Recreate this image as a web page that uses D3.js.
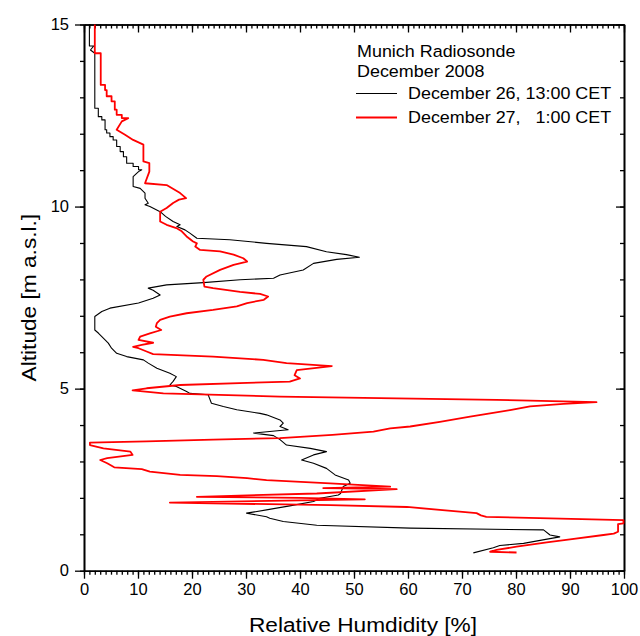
<!DOCTYPE html>
<html>
<head>
<meta charset="utf-8">
<script src="https://cdn.jsdelivr.net/npm/d3@7"></script>
<style>
  body { margin: 0; background: #fff; }
  text { font-family: Arial, "Liberation Sans", sans-serif; fill: #000; }
</style>
</head>
<body>
<script>
// radiosonde profiles, altitude in km, relative humidity in %
var blackAlt = [15.0, 14.41, 14.41, 14.3, 14.21, 12.70, 12.70, 12.47, 12.47, 12.38, 12.38, 12.11, 12.11, 12.02, 12.02, 11.92, 11.92, 11.83, 11.83, 11.65, 11.65, 11.51, 11.51, 11.37, 11.37, 11.19, 11.19, 11.10, 11.10, 11.01, 11.01, 10.96, 10.82, 10.55, 10.50, 10.37, 10.23, 10.09, 10.05, 10.00, 9.86, 9.73, 9.59, 9.50, 9.45, 9.36, 9.27, 9.13, 9.09, 8.99, 8.90, 8.76, 8.68, 8.61, 8.55, 8.44, 8.26, 8.12, 8.03, 7.99, 7.91, 7.85, 7.76, 7.70, 7.57, 7.48, 7.35, 7.21, 7.12, 6.98, 6.61, 6.52, 6.43, 6.25, 6.11, 5.97, 5.88, 5.79, 5.70, 5.56, 5.42, 5.33, 5.20, 5.10, 5.06, 4.92, 4.87, 4.83, 4.60, 4.51, 4.42, 4.32, 4.28, 4.14, 4.05, 3.96, 3.87, 3.78, 3.71, 3.60, 3.45, 3.36, 3.27, 3.18, 3.04, 2.95, 2.81, 2.63, 2.49, 2.40, 2.31, 2.12, 2.08, 1.99, 1.90, 1.78, 1.67, 1.58, 1.48, 1.44, 1.35, 1.25, 1.17, 1.12, 0.98, 0.93, 0.86, 0.75, 0.69, 0.63, 0.49]
var blackRH = [1.0, 1.0, 1.8, 1.2, 2.0, 2.0, 2.65, 2.65, 3.3, 3.3, 3.9, 3.9, 4.2, 4.2, 4.8, 4.8, 5.4, 5.4, 6.05, 6.05, 6.7, 6.7, 7.3, 7.3, 7.9, 7.9, 9.1, 9.1, 10.1, 10.1, 10.7, 10.1, 9.1, 9.1, 10.4, 11.3, 11.3, 11.9, 11.3, 12.2, 14.1, 15.1, 16.5, 17.8, 17.2, 18.7, 19.6, 20.9, 27.0, 33.8, 41.2, 44.9, 48.6, 51.0, 46.8, 42.5, 40.6, 36.3, 35.1, 28.9, 22.1, 15.3, 11.9, 12.8, 14.1, 12.8, 10.1, 4.8, 3.3, 2.0, 2.0, 2.7, 3.3, 4.5, 5.1, 6.05, 7.9, 11.0, 11.9, 13.5, 15.9, 17.1, 16.5, 15.9, 17.1, 19.0, 19.6, 23.0, 23.6, 25.8, 28.3, 32.6, 33.8, 36.3, 36.9, 36.3, 37.8, 31.4, 35.1, 36.3, 37.5, 41.9, 44.9, 42.5, 40.3, 42.5, 44.9, 46.5, 49.0, 49.3, 48.0, 47.5, 47.1, 43.7, 42.5, 38.1, 33.8, 30.1, 33.8, 34.4, 36.9, 43.1, 60.4, 85.1, 86.3, 88.1, 85.5, 81.4, 77.0, 75.8, 72.1]

var redAlt = [15.0, 14.21, 14.21, 13.34, 13.34, 13.2, 13.2, 13.03, 13.03, 12.89, 12.89, 12.66, 12.66, 12.52, 12.52, 12.43, 12.43, 12.34, 12.11, 11.97, 11.83, 11.70, 11.24, 11.19, 10.96, 10.64, 10.59, 10.37, 10.23, 10.19, 10.10, 9.96, 9.86, 9.59, 9.50, 9.41, 9.32, 9.18, 9.04, 8.99, 8.90, 8.81, 8.77, 8.68, 8.58, 8.49, 8.40, 8.26, 8.08, 7.99, 7.80, 7.76, 7.66, 7.60, 7.53, 7.44, 7.35, 7.26, 7.16, 7.07, 6.98, 6.89, 6.80, 6.70, 6.61, 6.52, 6.43, 6.34, 6.26, 6.20, 6.15, 6.11, 6.02, 5.95, 5.88, 5.79, 5.70, 5.62, 5.51, 5.37, 5.28, 5.19, 5.16, 5.10, 5.01, 4.95, 4.87, 4.78, 4.69, 4.63, 4.58, 4.51, 4.41, 4.32, 4.23, 4.09, 3.96, 3.91, 3.82, 3.73, 3.64, 3.60, 3.55, 3.52, 3.45, 3.36, 3.27, 3.18, 3.09, 3.04, 2.95, 2.84, 2.79, 2.72, 2.63, 2.60, 2.54, 2.49, 2.40, 2.31, 2.27, 2.24, 2.12, 2.03, 2.00, 1.96, 1.87, 1.80, 1.75, 1.58, 1.52, 1.48, 1.39, 1.30, 1.28, 1.07, 1.02, 0.98, 0.86, 0.78, 0.66, 0.57, 0.52, 0.50]
var redRH = [2.0, 2.0, 3.1, 3.1, 3.9, 3.9, 4.2, 4.2, 5.1, 5.1, 5.7, 5.7, 6.05, 6.05, 7.0, 7.0, 8.2, 7.0, 6.05, 7.6, 9.1, 11.0, 11.0, 12.1, 12.1, 11.3, 15.3, 17.8, 18.9, 17.6, 16.5, 15.3, 14.1, 14.1, 15.3, 17.1, 18.1, 19.0, 20.2, 20.9, 20.6, 21.5, 25.2, 27.7, 29.5, 30.2, 27.7, 25.2, 22.7, 22.1, 22.3, 23.9, 28.9, 32.6, 34.1, 33.3, 30.2, 28.3, 23.9, 19.0, 15.9, 14.1, 13.5, 13.3, 14.3, 12.2, 10.4, 10.1, 12.8, 10.7, 9.1, 10.1, 11.6, 12.8, 23.9, 33.2, 37.5, 45.9, 39.4, 39.0, 40.0, 38.1, 30.2, 17.8, 11.6, 9.0, 14.7, 36.3, 76.4, 94.9, 88.8, 82.6, 78.9, 75.2, 71.5, 65.9, 60.4, 56.7, 53.6, 46.0, 36.3, 23.9, 11.6, 1.1, 1.1, 3.6, 8.6, 9.0, 4.3, 3.0, 4.3, 5.6, 10.7, 12.2, 17.8, 24.6, 30.2, 33.8, 45.6, 56.7, 44.3, 57.9, 43.1, 20.9, 40.0, 52.0, 15.9, 45.6, 59.8, 72.7, 73.5, 74.5, 99.9, 99.9, 98.9, 98.9, 98.1, 96.2, 90.0, 85.7, 80.1, 76.4, 75.2, 80.1]

var xTicks = [0, 10, 20, 30, 40, 50, 60, 70, 80, 90, 100]
var yTicks = [0, 5, 10, 15]
var legendTitle = ['Munich Radiosonde', 'December 2008']
var seriesNames = ['December 26, 13:00 CET', 'December 27,   1:00 CET']
var seriesColors = ['#000000', '#ff0000']

var width = 640
var height = 636
// plot frame (window.top is reserved, so use own names)
var padL = 84, padR = 624, padT = 24.5, padB = 570.7

var svg = d3.select('body').append('svg')
  .attr('width', width)
  .attr('height', height)

var xScale = d3.scaleLinear().domain([0, 100]).range([padL, padR])
var yScale = d3.scaleLinear().domain([0, 15]).range([padB, padT])

// axes (major + minor ticks)
const styleAxis = (g) => {
  g.selectAll('path.domain').attr('stroke-width', 1.6)
  g.selectAll('line').attr('stroke-width', 1.3)
  g.selectAll('text').attr('font-size', 16.5).attr('font-family', 'Arial, "Liberation Sans", sans-serif')
}

// bottom
svg.append('g').attr('transform', 'translate(0,' + padB + ')')
  .call(d3.axisBottom(xScale).tickValues(d3.range(0, 101, 1)).tickSize(4).tickFormat('').tickSizeOuter(0))
  .call(styleAxis)
svg.append('g').attr('transform', 'translate(0,' + padB + ')')
  .call(d3.axisBottom(xScale).tickValues(xTicks).tickSize(8).tickPadding(5).tickSizeOuter(0))
  .call(styleAxis)

// top (inward)
svg.append('g').attr('transform', 'translate(0,' + padT + ')')
  .call(d3.axisBottom(xScale).tickValues(d3.range(0, 101, 1)).tickSize(4).tickFormat('').tickSizeOuter(0))
  .call(styleAxis)
svg.append('g').attr('transform', 'translate(0,' + padT + ')')
  .call(d3.axisBottom(xScale).tickValues(xTicks).tickSize(8).tickFormat('').tickSizeOuter(0))
  .call(styleAxis)

// left
svg.append('g').attr('transform', 'translate(' + padL + ',0)')
  .call(d3.axisLeft(yScale).tickValues(d3.range(0, 16, 1)).tickSize(4).tickFormat('').tickSizeOuter(0))
  .call(styleAxis)
svg.append('g').attr('transform', 'translate(' + padL + ',0)')
  .call(d3.axisLeft(yScale).tickValues(yTicks).tickSize(9).tickPadding(6).tickSizeOuter(0))
  .call(styleAxis)

// right (inward)
svg.append('g').attr('transform', 'translate(' + padR + ',0)')
  .call(d3.axisLeft(yScale).tickValues(d3.range(0, 16, 1)).tickSize(4).tickFormat('').tickSizeOuter(0))
  .call(styleAxis)
svg.append('g').attr('transform', 'translate(' + padR + ',0)')
  .call(d3.axisLeft(yScale).tickValues(yTicks).tickSize(8).tickFormat('').tickSizeOuter(0))
  .call(styleAxis)

// the profiles
var line = d3.line()
  .x((d) => xScale(d[1]))
  .y((d) => yScale(d[0]))

var blackData = blackAlt.map((a, i) => [a, blackRH[i]])
var redData = redAlt.map((a, i) => [a, redRH[i]])

svg.append('path').datum(blackData)
  .attr('d', line).attr('fill', 'none')
  .attr('stroke', seriesColors[0]).attr('stroke-width', 1.1)
  .attr('stroke-linejoin', 'round')

svg.append('path').datum(redData)
  .attr('d', line).attr('fill', 'none')
  .attr('stroke', seriesColors[1]).attr('stroke-width', 1.8)
  .attr('stroke-linejoin', 'round')

// legend (the original font runs a bit wider than Arial, so stretch it a little)
const wideText = (x, y, size, str) => {
  return svg.append('text')
    .attr('transform', 'translate(' + x + ',' + y + ') scale(1.1,1)')
    .attr('font-size', size)
    .style('white-space', 'pre')
    .text(str)
}
wideText(357, 57, 16.3, legendTitle[0])
wideText(357, 77, 16.3, legendTitle[1])
seriesNames.forEach((name, i) => {
  var ly = 93.5 + i * 24
  svg.append('line').attr('x1', 356).attr('x2', 397).attr('y1', ly).attr('y2', ly)
    .attr('stroke', seriesColors[i]).attr('stroke-width', i == 0 ? 1.1 : 1.8)
  wideText(408, ly + 5.5, 16.3, name)
})

// axis titles
svg.append('text')
  .attr('transform', 'translate(' + 36 + ',' + yScale(7.5) + ') rotate(-90) scale(1.08,1)')
  .attr('text-anchor', 'middle').attr('font-size', 21)
  .text('Altitude [m a.s.l.]')

svg.append('text')
  .attr('transform', 'translate(' + ((padL + padR) / 2 + 9) + ',' + 632 + ') scale(1.08,1)')
  .attr('text-anchor', 'middle').attr('font-size', 21)
  .text('Relative Humdidity [%]')
</script>
</body>
</html>
